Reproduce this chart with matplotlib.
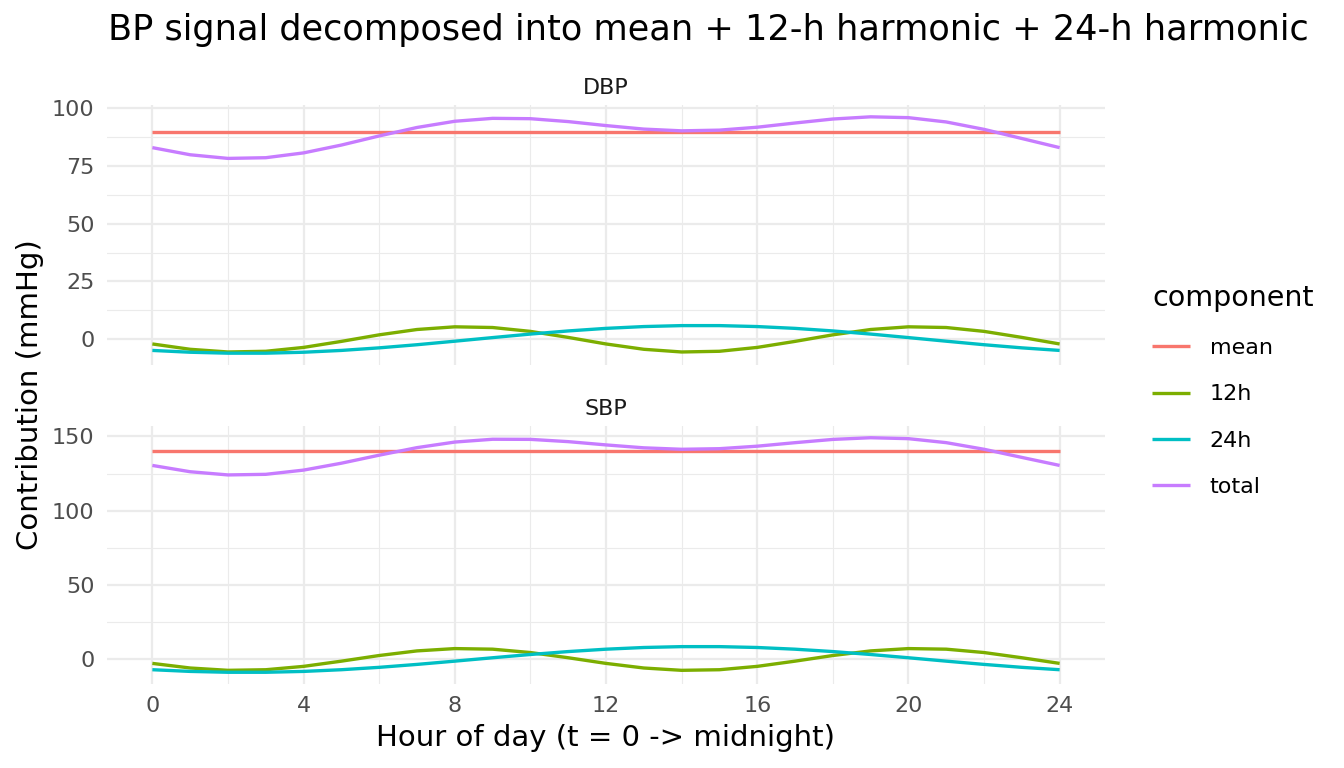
import matplotlib
matplotlib.use("Agg")
import matplotlib.pyplot as plt
from matplotlib.ticker import MultipleLocator
import numpy as np

# hour of day
hours = list(range(0, 25))

# DBP components (mmHg) at each hour
dbp_mean = [89.5] * 25
dbp_12h = [-1.97, -4.27, -5.43, -5.13, -3.46, -0.86, 1.97, 4.27, 5.43, 5.13, 3.46, 0.86,
           -1.97, -4.27, -5.43, -5.13, -3.46, -0.86, 1.97, 4.27, 5.43, 5.13, 3.46, 0.86, -1.97]
dbp_24h = [-4.76, -5.54, -5.95, -5.95, -5.54, -4.76, -3.65, -2.30, -0.78, 0.78, 2.30, 3.65,
           4.76, 5.54, 5.95, 5.95, 5.54, 4.76, 3.65, 2.30, 0.78, -0.78, -2.30, -3.65, -4.76]
dbp_total = [82.77, 79.69, 78.12, 78.42, 80.50, 83.88, 87.82, 91.47, 94.15, 95.41, 95.26, 94.01,
             92.29, 90.77, 90.02, 90.32, 91.58, 93.40, 95.12, 96.07, 95.71, 93.85, 90.66, 86.71, 82.77]

# SBP components (mmHg)
sbp_mean = [140.0] * 25
sbp_12h = [-2.65, -5.75, -7.31, -6.91, -4.65, -1.15, 2.65, 5.75, 7.31, 6.91, 4.65, 1.15,
           -2.65, -5.75, -7.31, -6.91, -4.65, -1.15, 2.65, 5.75, 7.31, 6.91, 4.65, 1.15, -2.65]
sbp_24h = [-6.90, -8.04, -8.62, -8.62, -8.04, -6.90, -5.30, -3.33, -1.14, 1.14, 3.33, 5.30,
           6.90, 8.04, 8.62, 8.62, 8.04, 6.90, 5.30, 3.33, 1.14, -1.14, -3.33, -5.30, -6.90]
sbp_total = [130.45, 126.21, 124.07, 124.47, 127.31, 131.95, 137.35, 142.42, 146.17, 148.05, 147.98, 146.45,
             144.25, 142.29, 141.31, 141.71, 143.39, 145.75, 147.95, 149.08, 148.45, 145.77, 141.32, 135.85, 130.45]

components = ["mean", "12h", "24h", "total"]
colors = ["#F8766D", "#7CAE00", "#00BFC4", "#C77CFF"]

fig = plt.figure(figsize=(13.44, 7.68), dpi=100)
W, H = 1344, 768

def px_axes(x0, y0, x1, y1):
    return fig.add_axes([x0 / W, 1 - y1 / H, (x1 - x0) / W, (y1 - y0) / H])

panels = [
    ("DBP", [dbp_mean, dbp_12h, dbp_24h, dbp_total], px_axes(107, 105, 1105, 365), 25),
    ("SBP", [sbp_mean, sbp_12h, sbp_24h, sbp_total], px_axes(107, 426, 1105, 684), 50),
]

for name, series, ax, ystep in panels:
    for comp, vals, col in zip(components, series, colors):
        ax.plot(hours, vals, color=col, lw=2.4, label=comp, solid_capstyle="butt",
                solid_joinstyle="round", zorder=3)
    ax.margins(x=0.05, y=0.05)
    ax.xaxis.set_major_locator(MultipleLocator(4))
    ax.xaxis.set_minor_locator(MultipleLocator(2))
    ax.yaxis.set_major_locator(MultipleLocator(ystep))
    ax.yaxis.set_minor_locator(MultipleLocator(ystep / 2))
    ax.grid(which="major", color="#EBEBEB", lw=1.6)
    ax.grid(which="minor", color="#EBEBEB", lw=0.8)
    ax.set_axisbelow(True)
    for s in ax.spines.values():
        s.set_visible(False)
    ax.tick_params(which="both", length=0, labelsize=16, labelcolor="#4D4D4D", pad=9)
    ax.set_title(name, fontsize=16, color="#1A1A1A", pad=8)

panels[0][2].tick_params(labelbottom=False)

fig.text(708 / W, 1 - 30 / H, "BP signal decomposed into mean + 12-h harmonic + 24-h harmonic",
         ha="center", va="center", fontsize=25.3)
fig.text(30 / W, 1 - 395 / H, "Contribution (mmHg)", rotation=90, ha="center", va="center", fontsize=21)
fig.text(606 / W, 1 - 738 / H, "Hour of day (t = 0 -> midnight)", ha="center", va="center", fontsize=21)

handles, labels = panels[0][2].get_legend_handles_labels()
leg = fig.legend(handles, labels, title="component", loc="upper left",
                 bbox_to_anchor=(1152 / W, 1 - 284 / H), frameon=False,
                 borderaxespad=0, borderpad=0,
                 fontsize=16, title_fontsize=20.5, handlelength=1.7, labelspacing=1.18,
                 handletextpad=0.9)
leg._legend_box.align = "left"

fig.savefig("out.png", dpi=100)
